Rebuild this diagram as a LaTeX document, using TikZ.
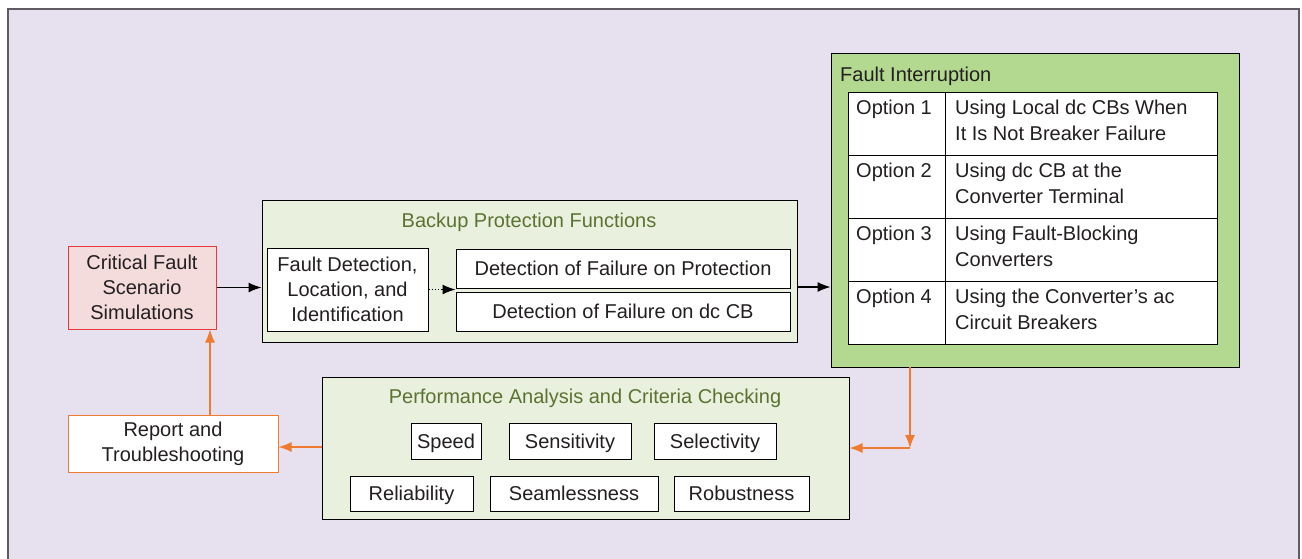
\documentclass[tikz,border=0pt]{standalone}
\usepackage{fontspec}
\setmainfont{Liberation Sans}
\usetikzlibrary{arrows.meta,calc}
\definecolor{bglav}{HTML}{E7E1EF}
\definecolor{framegray}{HTML}{5F5B63}
\definecolor{pinkfill}{HTML}{F4DCDC}
\definecolor{redline}{HTML}{E8393F}
\definecolor{lightgreen}{HTML}{E9F0DE}
\definecolor{titlegreen}{HTML}{5B7332}
\definecolor{figreen}{HTML}{B3D890}
\definecolor{orangeline}{HTML}{EE7B30}
\definecolor{txt}{HTML}{231F20}
\tikzset{
  box/.style={draw=black, line width=1pt, fill=white, inner sep=0pt, text=txt,
    font=\fontsize{20}{25}\selectfont, align=center},
  critbox/.style={box, text height=14.5pt, text depth=0pt},
  grp/.style={draw=black, line width=1pt, fill=lightgreen, inner sep=0pt},
  ttl/.style={text=titlegreen, font=\fontsize{20}{25}\selectfont, inner sep=0pt},
  celltext/.style={text=txt, font=\fontsize{20}{26}\selectfont, align=left, inner sep=0pt, anchor=north west},
  blackarrow/.style={draw=black, line width=1.2pt, -{Latex[length=13pt,width=10pt]}},
  orangearrow/.style={draw=orangeline, line width=1.2pt, -{Latex[length=13pt,width=10pt]}}
}
\begin{document}
\begin{tikzpicture}[x=1pt,y=-1pt]
\useasboundingbox (0,0) rectangle (1302,558);
\fill[white] (0,0) rectangle (1302,558);
\fill[bglav] (8,9) rectangle (1299,560);
\draw[framegray, line width=1.6pt] (8,560) -- (8,9) -- (1299,9) -- (1299,560);

% Critical fault
\node[box, fill=pinkfill, draw=redline, minimum width=148pt, minimum height=83pt] (crit) at (142,287.5)
  {Critical Fault\\Scenario\\Simulations};

% Backup protection group
\node[grp, minimum width=535pt, minimum height=142pt] (backup) at (529.5,271) {};
\node[ttl] (backupttl) at (529,222) {Backup Protection Functions};
\node[box, minimum width=161pt, minimum height=83pt] (fd) at (347.5,289.5)
  {Fault Detection,\\Location, and\\Identification};
\node[critbox, minimum width=334pt, minimum height=39pt] (dfp) at (623,268.5) {Detection of Failure on Protection};
\node[critbox, minimum width=334pt, minimum height=39pt] (dfc) at (623,311.5) {Detection of Failure on dc CB};

% Fault interruption
\node[draw=black, line width=1pt, fill=figreen, minimum width=408pt, minimum height=314pt, inner sep=0pt] (fi) at (1035,210) {};
\node[text=txt, font=\fontsize{20}{25}\selectfont, inner sep=0pt, anchor=west] (fittl) at (840,76) {Fault Interruption};
\node[draw=black, line width=1pt, fill=white, minimum width=369pt, minimum height=252pt, inner sep=0pt] (tbl) at (1032.5,218) {};
\draw[black, line width=1pt] (945,92) -- (945,344);
\draw[black, line width=1pt] (848,155) -- (1217,155);
\draw[black, line width=1pt] (848,218) -- (1217,218);
\draw[black, line width=1pt] (848,281) -- (1217,281);
\node[celltext] (o1) at (856,100) {Option 1};
\node[celltext] (o2) at (856,163) {Option 2};
\node[celltext] (o3) at (856,226) {Option 3};
\node[celltext] (o4) at (856,289) {Option 4};
\node[celltext] (t1) at (955,100) {Using Local dc CBs When\\It Is Not Breaker Failure};
\node[celltext] (t2) at (955,163) {Using dc CB at the\\Converter Terminal};
\node[celltext] (t3) at (955,226) {Using Fault-Blocking\\Converters};
\node[celltext] (t4) at (955,289) {Using the Converter’s ac\\Circuit Breakers};

% Performance analysis
\node[grp, minimum width=527pt, minimum height=142pt] (perf) at (585.5,448) {};
\node[ttl] (perfttl) at (585,398) {Performance Analysis and Criteria Checking};
\node[critbox, minimum width=70pt, minimum height=36pt] (speed) at (446,441) {Speed};
\node[critbox, minimum width=122pt, minimum height=36pt] (sens) at (570,441) {Sensitivity};
\node[critbox, minimum width=122pt, minimum height=36pt] (sel) at (715,441) {Selectivity};
\node[critbox, minimum width=123pt, minimum height=35pt] (rel) at (411.5,493.5) {Reliability};
\node[critbox, minimum width=168pt, minimum height=35pt] (seam) at (574,493.5) {Seamlessness};
\node[critbox, minimum width=135pt, minimum height=35pt] (rob) at (741.5,493.5) {Robustness};

% Report
\node[box, draw=orangeline, minimum width=210pt, minimum height=57pt] (rep) at (173,443.5)
  {Report and\\Troubleshooting};

% Connectors
\draw[blackarrow] (crit.east) -- (crit.east -| backup.west);
\draw[black, line width=1.2pt, dotted, -{Latex[length=13pt,width=10pt]}] (fd.east) -- (fd.east -| dfp.west);
\coordinate (bo) at (797,287);
\draw[blackarrow] (bo) -- (bo -| fi.west);
\coordinate (fio) at (910,367);
\coordinate (corner) at (910,448);
\draw[orangearrow] (fio) -- (corner);
\draw[orangearrow] (corner) -- (corner -| perf.east);
\coordinate (po) at (322,447);
\draw[orangearrow] (po) -- (po -| rep.east);
\coordinate (ru) at (210,415);
\draw[orangearrow] (ru) -- (ru |- crit.south);
\end{tikzpicture}
\end{document}
